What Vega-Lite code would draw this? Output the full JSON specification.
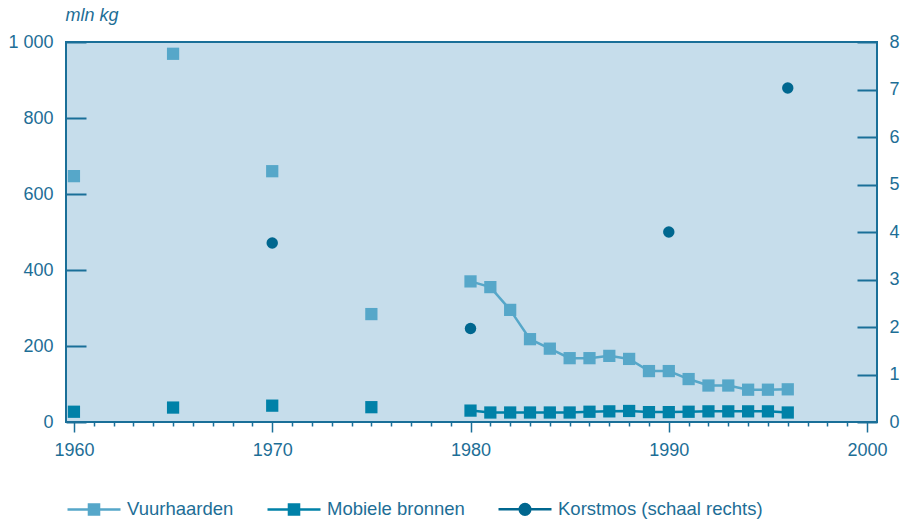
{
  "$schema": "https://vega.github.io/schema/vega-lite/v6.json",
  "width": 811,
  "height": 380,
  "autosize": {"type": "none"},
  "padding": {"left": 66, "top": 42, "right": 28, "bottom": 105},
  "data": {"values": [
    {"year": 1960, "series": "Vuurhaarden", "value": 647},
    {"year": 1965, "series": "Vuurhaarden", "value": 969},
    {"year": 1970, "series": "Vuurhaarden", "value": 660},
    {"year": 1975, "series": "Vuurhaarden", "value": 284},
    {"year": 1980, "series": "Vuurhaarden", "value": 370},
    {"year": 1981, "series": "Vuurhaarden", "value": 355},
    {"year": 1982, "series": "Vuurhaarden", "value": 295},
    {"year": 1983, "series": "Vuurhaarden", "value": 218},
    {"year": 1984, "series": "Vuurhaarden", "value": 193},
    {"year": 1985, "series": "Vuurhaarden", "value": 168},
    {"year": 1986, "series": "Vuurhaarden", "value": 168},
    {"year": 1987, "series": "Vuurhaarden", "value": 174},
    {"year": 1988, "series": "Vuurhaarden", "value": 166},
    {"year": 1989, "series": "Vuurhaarden", "value": 134},
    {"year": 1990, "series": "Vuurhaarden", "value": 134},
    {"year": 1991, "series": "Vuurhaarden", "value": 113},
    {"year": 1992, "series": "Vuurhaarden", "value": 96},
    {"year": 1993, "series": "Vuurhaarden", "value": 96},
    {"year": 1994, "series": "Vuurhaarden", "value": 85},
    {"year": 1995, "series": "Vuurhaarden", "value": 85},
    {"year": 1996, "series": "Vuurhaarden", "value": 86},
    {"year": 1960, "series": "Mobiele bronnen", "value": 27},
    {"year": 1965, "series": "Mobiele bronnen", "value": 38},
    {"year": 1970, "series": "Mobiele bronnen", "value": 43},
    {"year": 1975, "series": "Mobiele bronnen", "value": 39},
    {"year": 1980, "series": "Mobiele bronnen", "value": 30},
    {"year": 1981, "series": "Mobiele bronnen", "value": 25},
    {"year": 1982, "series": "Mobiele bronnen", "value": 25},
    {"year": 1983, "series": "Mobiele bronnen", "value": 25},
    {"year": 1984, "series": "Mobiele bronnen", "value": 25},
    {"year": 1985, "series": "Mobiele bronnen", "value": 25},
    {"year": 1986, "series": "Mobiele bronnen", "value": 27},
    {"year": 1987, "series": "Mobiele bronnen", "value": 28},
    {"year": 1988, "series": "Mobiele bronnen", "value": 29},
    {"year": 1989, "series": "Mobiele bronnen", "value": 26},
    {"year": 1990, "series": "Mobiele bronnen", "value": 26},
    {"year": 1991, "series": "Mobiele bronnen", "value": 27},
    {"year": 1992, "series": "Mobiele bronnen", "value": 28},
    {"year": 1993, "series": "Mobiele bronnen", "value": 28},
    {"year": 1994, "series": "Mobiele bronnen", "value": 28},
    {"year": 1995, "series": "Mobiele bronnen", "value": 28},
    {"year": 1996, "series": "Mobiele bronnen", "value": 25},
    {"year": 1970, "series": "Korstmos (schaal rechts)", "value": 3.77},
    {"year": 1980, "series": "Korstmos (schaal rechts)", "value": 1.97},
    {"year": 1990, "series": "Korstmos (schaal rechts)", "value": 4.0},
    {"year": 1996, "series": "Korstmos (schaal rechts)", "value": 7.03}
  ]},
  "encoding": {
    "x": {
      "field": "year", "type": "quantitative",
      "scale": {"domain": [1959.6, 2000.5], "nice": false, "zero": false},
      "axis": {
        "title": null,
        "values": [1960,1961,1962,1963,1964,1965,1966,1967,1968,1969,1970,1971,1972,1973,1974,1975,1976,1977,1978,1979,1980,1981,1982,1983,1984,1985,1986,1987,1988,1989,1990,1991,1992,1993,1994,1995,1996,1997,1998,1999,2000],
        "tickSize": {"condition": {"test": "datum.value % 10 === 0", "value": 10}, "value": 4},
        "tickWidth": 1.5,
        "labelExpr": "datum.value % 10 === 0 ? datum.value + '' : ''",
        "labelOverlap": false,
        "labelPadding": 9,
        "labelFlush": false
      }
    },
    "color": {
      "field": "series", "type": "nominal",
      "scale": {
        "domain": ["Vuurhaarden", "Mobiele bronnen", "Korstmos (schaal rechts)"],
        "range": ["#56a7c9", "#0081a8", "#00678f"]
      },
      "legend": {
        "title": null,
        "orient": "none",
        "direction": "horizontal",
        "legendX": 0,
        "legendY": 439,
        "symbolSize": 2809,
        "labelOffset": 5,
        "labelLimit": 0,
        "labelFontSize": 18.5,
        "columnPadding": 28,
        "encode": {
          "symbols": {
            "update": {
              "shape": {"signal": "datum.value === 'Korstmos (schaal rechts)' ? 'M-1,0H1M0.2,0A0.2,0.2,0,1,1,-0.2,0A0.2,0.2,0,1,1,0.2,0Z' : 'M-1,0H1M-0.19,-0.19H0.19V0.19H-0.19Z'"},
              "fill": {"scale": "color", "field": "value"},
              "stroke": {"scale": "color", "field": "value"},
              "strokeWidth": {"value": 2.5},
              "opacity": {"value": 1},
              "fillOpacity": {"value": 1},
              "strokeOpacity": {"value": 1}
            }
          }
        }
      }
    }
  },
  "layer": [
    {
      "encoding": {
        "y": {
          "field": "value", "type": "quantitative",
          "scale": {"domain": [0, 1000], "nice": false},
          "axis": {
            "title": "mln kg",
            "titleAngle": 0,
            "titleAlign": "left",
            "titleBaseline": "alphabetic",
            "titleX": -1,
            "titleY": -22,
            "titleFontStyle": "italic",
            "titleFontWeight": "normal",
            "titleFontSize": 18,
            "titleFont": "Liberation Sans",
            "titleColor": "#1d6e96",
            "values": [0, 200, 400, 600, 800, 1000],
            "labelExpr": "datum.value === 1000 ? '1 000' : datum.value + ''",
            "tickSize": -20,
            "tickWidth": 2,
            "labelPadding": 33
          }
        }
      },
      "layer": [
        {
          "transform": [{"filter": "datum.series !== 'Korstmos (schaal rechts)' && datum.year >= 1980"}],
          "mark": {"type": "line", "strokeWidth": 2.5}
        },
        {
          "transform": [{"filter": "datum.series !== 'Korstmos (schaal rechts)'"}],
          "mark": {"type": "point", "shape": "square", "filled": true, "size": 150, "opacity": 1}
        }
      ]
    },
    {
      "transform": [{"filter": "datum.series === 'Korstmos (schaal rechts)'"}],
      "mark": {"type": "point", "shape": "circle", "filled": true, "size": 130, "opacity": 1},
      "encoding": {
        "y": {
          "field": "value", "type": "quantitative",
          "scale": {"domain": [0, 8], "nice": false},
          "axis": {
            "title": null,
            "orient": "right",
            "values": [0, 1, 2, 3, 4, 5, 6, 7, 8],
            "tickSize": -20,
            "tickWidth": 2,
            "labelPadding": 32
          }
        }
      }
    }
  ],
  "resolve": {"scale": {"y": "independent"}},
  "config": {
    "font": "Liberation Sans",
    "view": {"fill": "#c6ddeb", "stroke": "#1a6f98", "strokeWidth": 2},
    "axis": {
      "domain": false,
      "grid": false,
      "labelFont": "Liberation Sans",
      "labelFontSize": 18,
      "labelColor": "#1d6e96",
      "tickColor": "#1a6f98"
    },
    "legend": {
      "labelFont": "Liberation Sans",
      "labelFontSize": 18.5,
      "labelColor": "#1d6e96",
      "padding": 0
    }
  }
}
